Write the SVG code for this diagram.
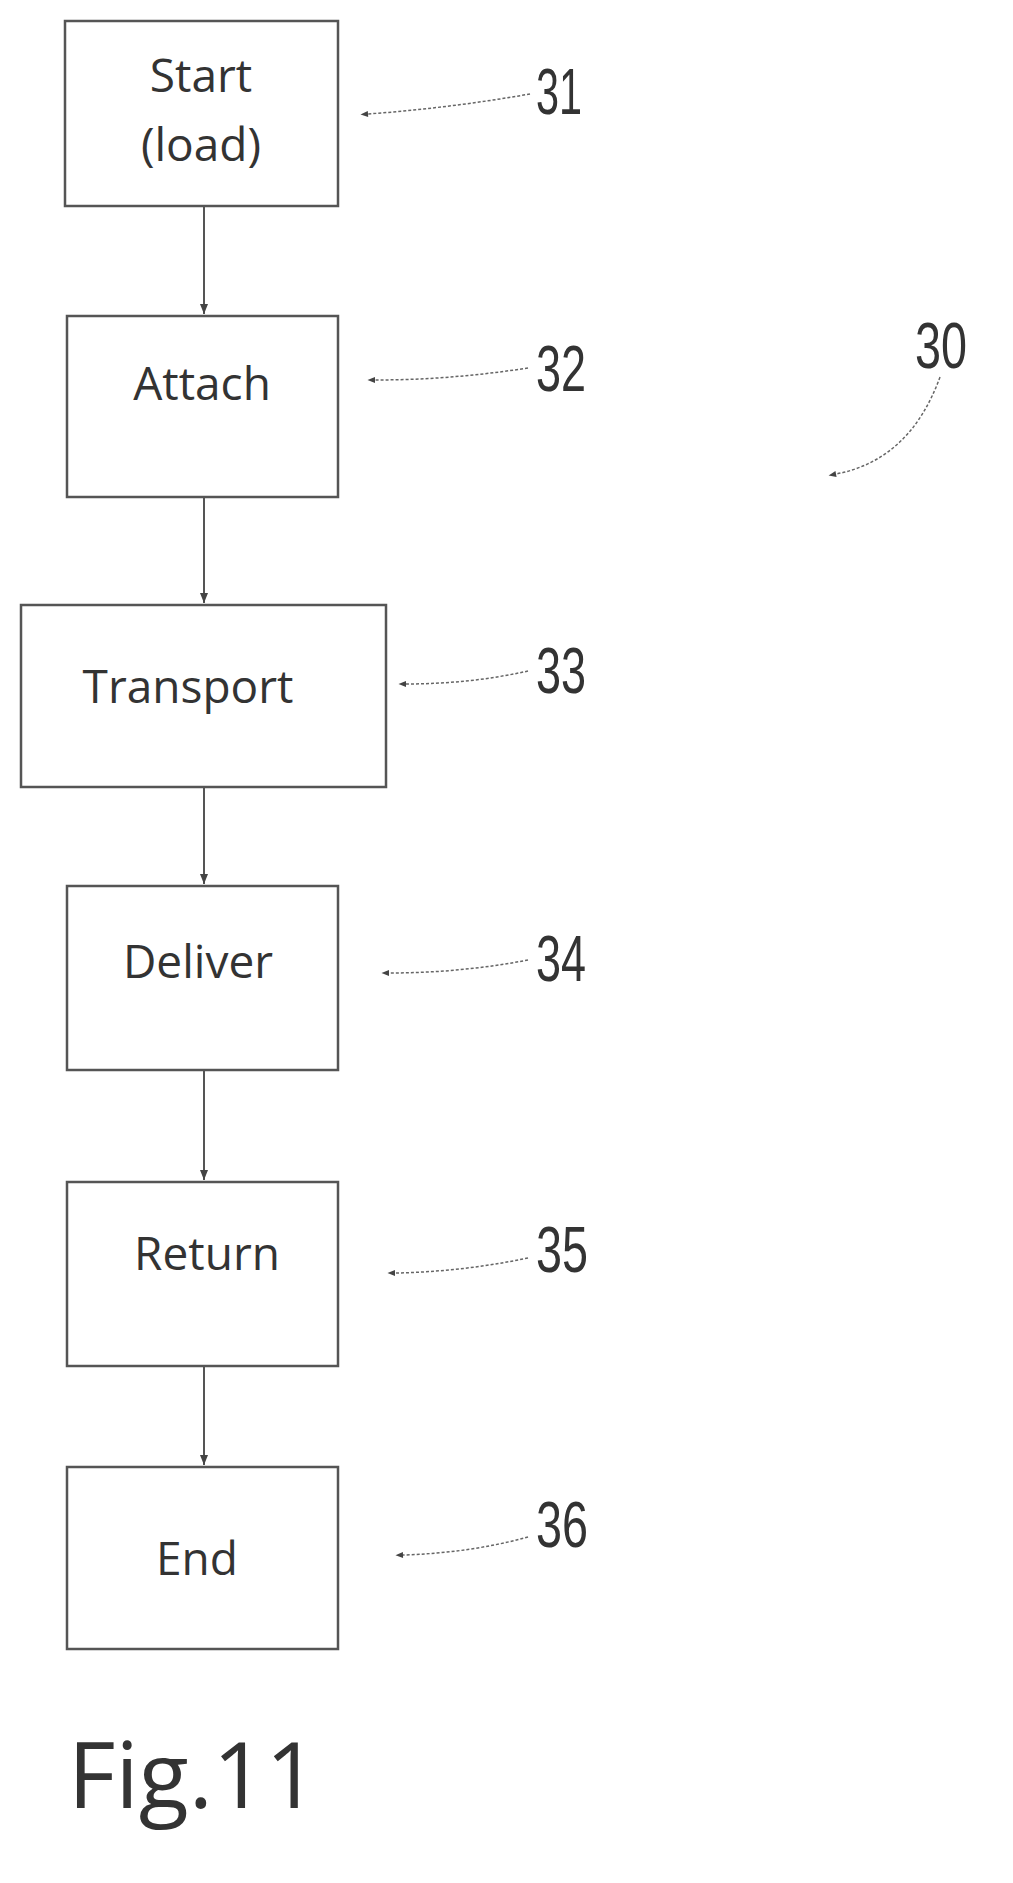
<svg xmlns="http://www.w3.org/2000/svg" width="1013" height="1883" viewBox="0 0 1013 1883">
<style>
.box{fill:#fff;stroke:#555;stroke-width:2.5}
.t{font-family:"Open Sans","Liberation Sans",sans-serif;font-size:46px;fill:#333;text-anchor:middle}
.n{font-family:"Liberation Sans",sans-serif;font-size:64px;fill:#333}
.f{font-family:"Open Sans","Liberation Sans",sans-serif;font-size:92px;fill:#333}
.c{stroke:#555;stroke-width:2;fill:none}
.l{stroke:#666;stroke-width:1.5;fill:none;stroke-dasharray:3 2}
</style>
<defs>
<marker id="a" viewBox="0 0 10 10" refX="10" refY="5" markerWidth="5" markerHeight="5" orient="auto"><path d="M0,1 L10,5 L0,9 z" fill="#444"/></marker>
<marker id="d" viewBox="0 0 10 10" refX="0" refY="5" markerWidth="7" markerHeight="5" orient="auto"><path d="M10,5 L0,1 L0,9 z" fill="#444"/></marker>
</defs>
<g id="connectors">
<line class="c" x1="204" y1="206" x2="204" y2="314" marker-end="url(#a)"/>
<line class="c" x1="204" y1="497" x2="204" y2="603" marker-end="url(#a)"/>
<line class="c" x1="204" y1="787" x2="204" y2="884" marker-end="url(#a)"/>
<line class="c" x1="204" y1="1070" x2="204" y2="1180" marker-end="url(#a)"/>
<line class="c" x1="204" y1="1366" x2="204" y2="1465" marker-end="url(#a)"/>
<path class="l" d="M530,94 Q450,108 368,114" marker-end="url(#d)"/>
<path class="l" d="M528,368 Q450,380 375,380" marker-end="url(#d)"/>
<path class="l" d="M528,671 Q470,684 406,684" marker-end="url(#d)"/>
<path class="l" d="M528,960 Q460,973 389,973" marker-end="url(#d)"/>
<path class="l" d="M528,1258 Q460,1272 395,1273" marker-end="url(#d)"/>
<path class="l" d="M528,1537 Q470,1553 403,1555" marker-end="url(#d)"/>
<path class="l" d="M940,377 Q910,460 836,474" marker-end="url(#d)"/>
</g>
<g id="n31"><rect class="box" x="65" y="21" width="273" height="185"/><text class="t" x="201" y="92">Start</text><text class="t" x="201" y="161">(load)</text></g>
<g id="n32"><rect class="box" x="67" y="316" width="271" height="181"/><text class="t" x="202" y="400">Attach</text></g>
<g id="n33"><rect class="box" x="21" y="605" width="365" height="182"/><text class="t" x="188" y="703">Transport</text></g>
<g id="n34"><rect class="box" x="67" y="886" width="271" height="184"/><text class="t" x="198" y="978">Deliver</text></g>
<g id="n35"><rect class="box" x="67" y="1182" width="271" height="184"/><text class="t" x="207" y="1270">Return</text></g>
<g id="n36"><rect class="box" x="67" y="1467" width="271" height="182"/><text class="t" x="197" y="1575">End</text></g>
<g id="labels">
<text class="n" x="536" y="114" textLength="46" lengthAdjust="spacingAndGlyphs">31</text>
<text class="n" x="536" y="391" textLength="50" lengthAdjust="spacingAndGlyphs">32</text>
<text class="n" x="536" y="693" textLength="50" lengthAdjust="spacingAndGlyphs">33</text>
<text class="n" x="536" y="981" textLength="50" lengthAdjust="spacingAndGlyphs">34</text>
<text class="n" x="536" y="1272" textLength="52" lengthAdjust="spacingAndGlyphs">35</text>
<text class="n" x="536" y="1547" textLength="52" lengthAdjust="spacingAndGlyphs">36</text>
<text class="n" x="915" y="368" textLength="52" lengthAdjust="spacingAndGlyphs">30</text>
<text class="f" x="68" y="1808">Fig.11</text>
</g>
</svg>
